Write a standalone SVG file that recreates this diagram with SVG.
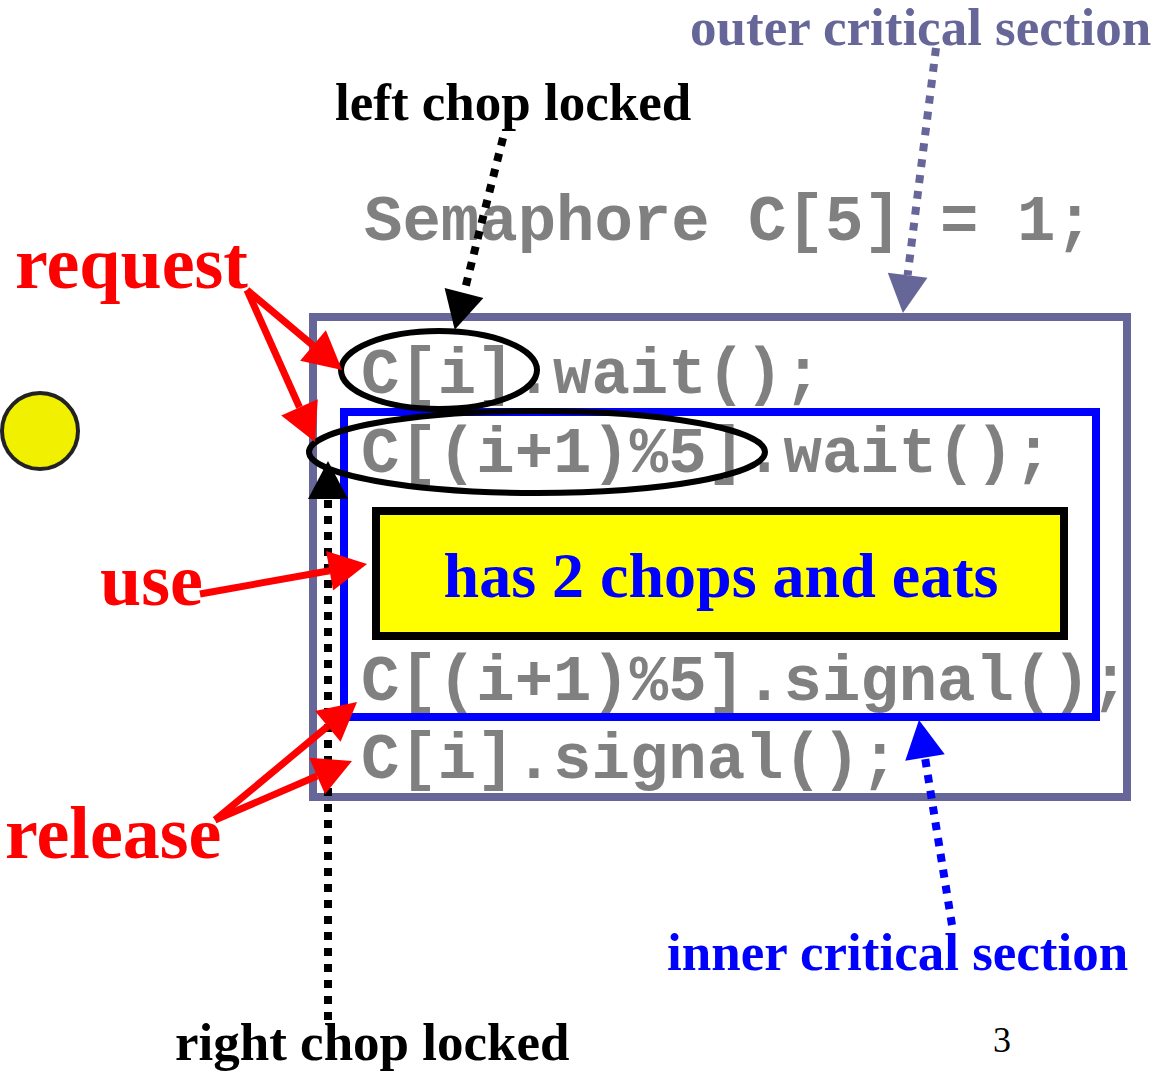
<svg xmlns="http://www.w3.org/2000/svg" width="1153" height="1073" viewBox="0 0 1153 1073">
<style>
.code{font-family:"Liberation Mono","Courier New",monospace;font-weight:bold;font-size:64px;fill:#808080}
.lbl{font-family:"Liberation Serif","Times New Roman",serif;font-weight:bold}
.big{font-size:74px;fill:#ff0000}
.mid{font-size:53px}
.red{stroke:#ff0000;stroke-width:7;fill:none;marker-end:url(#hr)}
.dot{stroke-width:8;fill:none;stroke-dasharray:8 8}
</style>
<defs>
<marker id="hr" markerUnits="userSpaceOnUse" markerWidth="40" markerHeight="40" refX="0" refY="20" orient="auto" overflow="visible"><path d="M0,0 L38,20 L0,40 Z" fill="#ff0000"/></marker>
<marker id="hk" markerUnits="userSpaceOnUse" markerWidth="40" markerHeight="40" refX="0" refY="20" orient="auto" overflow="visible"><path d="M0,0 L38,20 L0,40 Z" fill="#000000"/></marker>
<marker id="hs" markerUnits="userSpaceOnUse" markerWidth="40" markerHeight="40" refX="0" refY="20" orient="auto" overflow="visible"><path d="M0,0 L38,20 L0,40 Z" fill="#666699"/></marker>
<marker id="hb" markerUnits="userSpaceOnUse" markerWidth="40" markerHeight="40" refX="0" refY="20" orient="auto" overflow="visible"><path d="M0,0 L38,20 L0,40 Z" fill="#0000ff"/></marker>
</defs>
<rect width="1153" height="1073" fill="#ffffff"/>

<g id="philosopher">
<circle cx="40" cy="431" r="38" fill="#f0f000" stroke="#222222" stroke-width="4"/>
</g>

<g id="outer-section">
<rect x="313" y="317" width="814" height="480" fill="none" stroke="#666699" stroke-width="8"/>
</g>
<g id="inner-section">
<rect x="344" y="412" width="752" height="305" fill="none" stroke="#0000ff" stroke-width="8"/>
</g>
<g id="eat-box">
<rect x="376" y="511" width="688" height="125" fill="#ffff00" stroke="#000000" stroke-width="8"/>
<text class="lbl" x="721" y="597" text-anchor="middle" font-size="64" fill="#0000ff">has 2 chops and eats</text>
</g>

<g id="code">
<text class="code" x="364" y="240">Semaphore C[5] = 1;</text>
<text class="code" x="361" y="393">C[i].wait();</text>
<text class="code" x="361" y="472">C[(i+1)%5].wait();</text>
<text class="code" x="361" y="700">C[(i+1)%5].signal();</text>
<text class="code" x="361" y="778">C[i].signal();</text>
</g>

<g id="ellipses" fill="none" stroke="#000000" stroke-width="6">
<ellipse id="left-chop" cx="439" cy="370" rx="98" ry="39"/>
<ellipse id="right-chop" cx="537" cy="452" rx="228" ry="41"/>
</g>

<g id="labels">
<text x="335" y="120" class="lbl mid" fill="#000000">left chop locked</text>
<text x="690" y="45" class="lbl mid" fill="#666699">outer critical section</text>
<text x="15" y="288" class="lbl big">request</text>
<text x="100" y="605" class="lbl big">use</text>
<text x="5" y="858" class="lbl big">release</text>
<text x="667" y="970" class="lbl mid" fill="#0000ff">inner critical section</text>
<text x="175" y="1060" class="lbl mid" fill="#000000">right chop locked</text>
<text x="993" y="1052" font-family="Liberation Serif,serif" font-weight="normal" font-size="36" fill="#000000">3</text>
</g>

<g id="connectors">
<line class="dot" stroke="#000000" x1="503" y1="138" x2="464" y2="293" marker-end="url(#hk)"/>
<line class="dot" stroke="#000000" x1="328" y1="1020" x2="328" y2="499" marker-end="url(#hk)"/>
<line class="dot" stroke="#666699" x1="936" y1="48" x2="907.6" y2="275.3" marker-end="url(#hs)"/>
<line class="dot" stroke="#0000ff" x1="952" y1="925" x2="925" y2="757.5" marker-end="url(#hb)"/>
<line class="red" x1="247" y1="290" x2="313" y2="345.5"/>
<line class="red" x1="247" y1="290" x2="299.5" y2="407.3"/>
<line class="red" x1="200" y1="594" x2="329.6" y2="570.7"/>
<line class="red" x1="215" y1="820" x2="327.8" y2="726.3"/>
<line class="red" x1="215" y1="820" x2="317.1" y2="776"/>
</g>
</svg>
